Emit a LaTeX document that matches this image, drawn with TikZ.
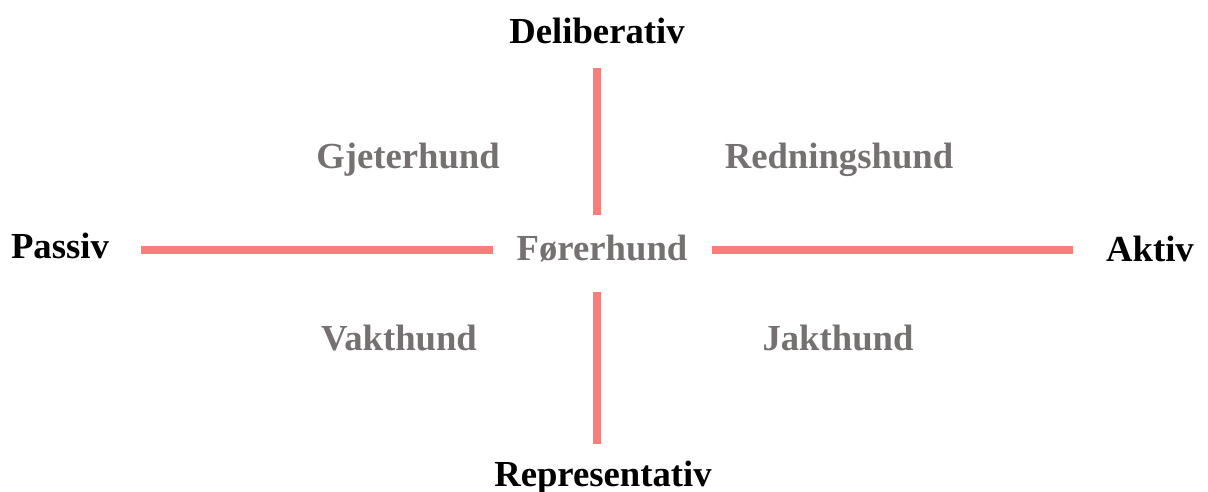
\documentclass[tikz,border=0pt]{standalone}
\usepackage{fontspec}
\setmainfont{Liberation Serif}
\definecolor{axis}{HTML}{F97D7A}
\definecolor{quad}{HTML}{767171}
\tikzset{
  axisline/.style={draw=axis, line width=7.5pt},
  pole/.style={font=\bfseries\fontsize{36.7}{40}\selectfont, text=black, inner sep=0pt, anchor=base},
  kind/.style={font=\bfseries\fontsize{36.7}{40}\selectfont, text=quad, inner sep=0pt, anchor=base},
}
\begin{document}
\begin{tikzpicture}[x=1pt,y=-1pt]
\useasboundingbox[fill=white] (0,0) rectangle (1208,492);
\coordinate (t1) at (597,68);
\coordinate (t2) at (597,215);
\coordinate (b1) at (597,292);
\coordinate (b2) at (597,444);
\coordinate (l1) at (141,250);
\coordinate (l2) at (493,250);
\coordinate (r1) at (712,250);
\coordinate (r2) at (1073,250);
\draw[axisline] (t1) -- (t2);
\draw[axisline] (b1) -- (b2);
\draw[axisline] (l1) -- (l2);
\draw[axisline] (r1) -- (r2);
\node[pole] (delib) at (597,44) {Deliberativ};
\node[pole] (repr) at (603,486) {Representativ};
\node[pole] (passiv) at (60,258) {Passiv};
\node[pole] (aktiv) at (1150,261) {Aktiv};
\node[kind] (gjeter) at (408,169) {Gjeterhund};
\node[kind] (redning) at (839,169) {Redningshund};
\node[kind] (forer) at (602,260) {Førerhund};
\node[kind] (vakt) at (399,350) {Vakthund};
\node[kind] (jakt) at (838,350) {Jakthund};
\end{tikzpicture}
\end{document}
